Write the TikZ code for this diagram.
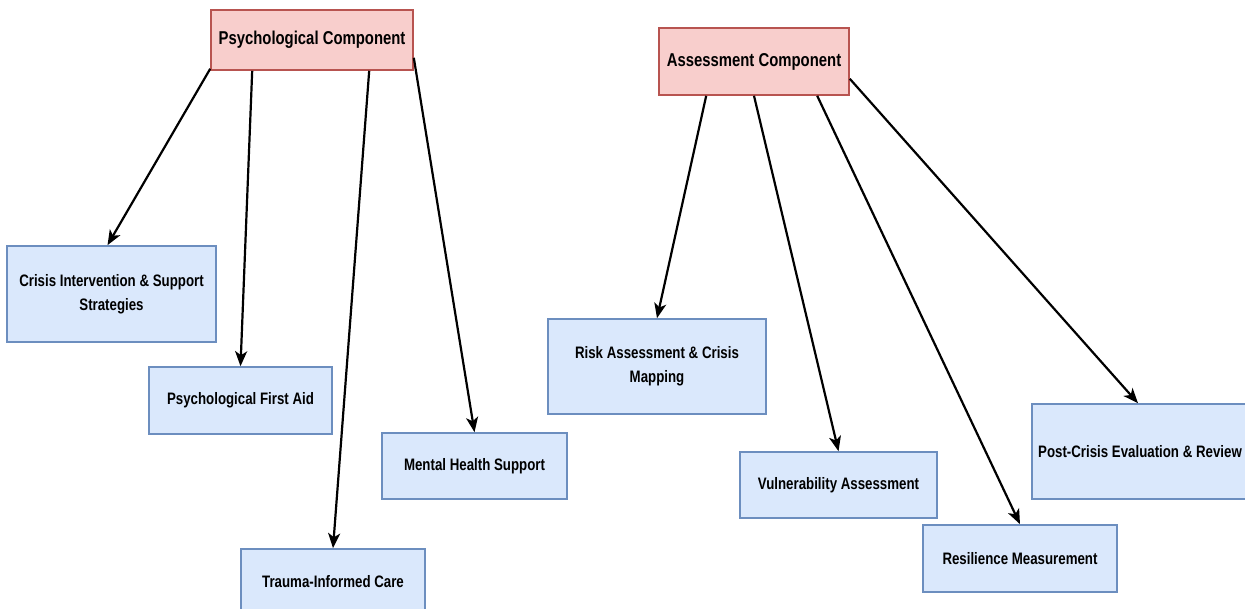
\documentclass[tikz,border=0pt]{standalone}
\usepackage{fontspec}
\setmainfont{Liberation Sans}[FakeStretch=0.8]
\usetikzlibrary{arrows.meta,calc}
\begin{document}
\begin{tikzpicture}[x=1pt,y=-1pt,
  box/.style={draw, line width=1.6pt, inner sep=0pt, align=center},
  comp/.style={box, fill=redfill, draw=redline, font=\bfseries\fontsize{18.6}{24}\selectfont},
  leaf/.style={box, fill=bluefill, draw=blueline, font=\bfseries\fontsize{16.6}{24}\selectfont},
  conn/.style={line width=2.2pt, -{Stealth[length=15pt,width=12pt,inset=4pt]}}]
\definecolor{redfill}{HTML}{F8CECC}
\definecolor{redline}{HTML}{B85450}
\definecolor{bluefill}{HTML}{DAE8FC}
\definecolor{blueline}{HTML}{6C8EBF}
\useasboundingbox (0,0) rectangle (1245,609);
\clip (0,0) rectangle (1245,609);
\fill[white] (0,0) rectangle (1245,609);
% components
\node[comp, minimum width=202pt, minimum height=60pt] (psy) at (312,40) {Psychological Component};
\node[comp, minimum width=190pt, minimum height=67pt] (asm) at (754,61.5) {Assessment Component};
% psychological leaves
\node[leaf, minimum width=209pt, minimum height=96pt] (cri) at (111.5,294) {Crisis Intervention \& Support\\Strategies};
\node[leaf, minimum width=183pt, minimum height=67pt] (pfa) at (240.5,400.5) {Psychological First Aid};
\node[leaf, minimum width=185pt, minimum height=66pt] (mhs) at (474.5,466) {Mental Health Support};
\node[leaf, minimum width=184pt, minimum height=66pt] (tic) at (333,582) {Trauma-Informed Care};
% assessment leaves
\node[leaf, minimum width=218pt, minimum height=95pt] (ris) at (657,366.5) {Risk Assessment \& Crisis\\Mapping};
\node[leaf, minimum width=197pt, minimum height=66pt] (vul) at (838.5,485) {Vulnerability Assessment};
\node[leaf, minimum width=194pt, minimum height=67pt] (res) at (1020,558.5) {Resilience Measurement};
\node[leaf, minimum width=216pt, minimum height=95pt] (pce) at (1140,451.5) {Post-Crisis Evaluation \& Review};
% connectors
\draw[conn] ([yshift=2pt]psy.south west) -- ([xshift=-4pt]cri.north);
\draw[conn] ([xshift=42pt]psy.south west) -- (pfa.north);
\draw[conn] ([xshift=159pt]psy.south west) -- (tic.north);
\draw[conn] ([yshift=13pt]psy.south east) -- (mhs.north);
\draw[conn] ([xshift=48pt]asm.south west) -- (ris.north);
\draw[conn] (asm.south) -- (vul.north);
\draw[conn] ([xshift=159pt]asm.south west) -- (res.north);
\draw[conn] ([yshift=17pt]asm.south east) -- ([xshift=-2pt]pce.north);
\end{tikzpicture}
\end{document}
